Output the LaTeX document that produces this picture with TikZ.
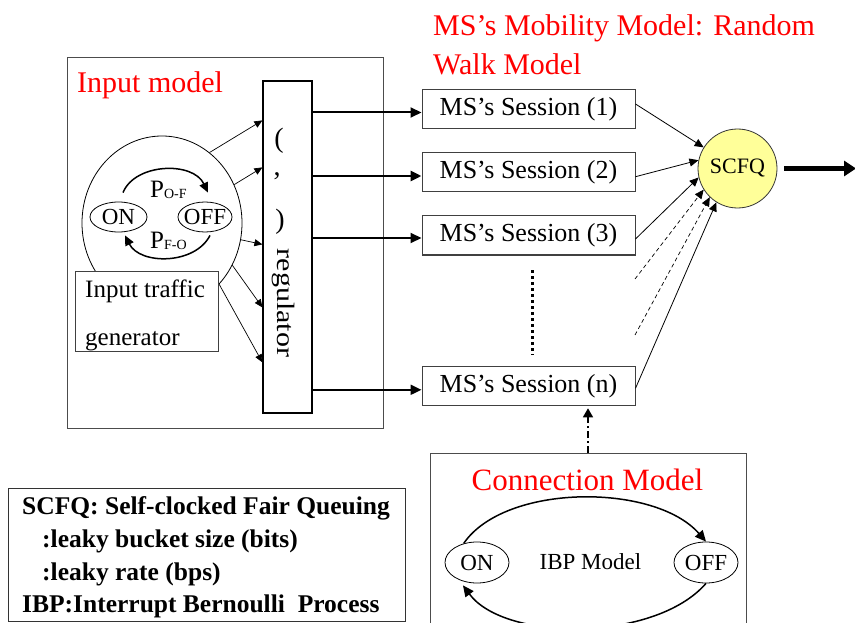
\documentclass[tikz,border=0pt]{standalone}
\usepackage{fontspec}
\setmainfont{Liberation Serif}
\usetikzlibrary{arrows.meta,shapes.geometric,calc}
\newcommand{\myfs}[1]{\fontsize{#1}{#1}\selectfont}
\newcommand{\zw}[1]{\makebox[0pt]{#1}}
\definecolor{scfqy}{HTML}{FFFF99}
\begin{document}
\begin{tikzpicture}[x=1pt,y=-1pt,
  outer/.style={draw=black!70, line width=0.9pt},
  sess/.style={rectangle, draw=black!75, line width=1pt, minimum width=213pt, minimum height=39pt, inner sep=0pt, font=\myfs{26}},
  st/.style={ellipse, draw=black, line width=0.8pt, inner sep=0pt, font=\myfs{23}},
  redlbl/.style={text=red, font=\myfs{30}, inner sep=0pt, anchor=base west},
  sm/.style={-{Triangle[length=8pt,width=7pt]}, line width=0.7pt},
  mid/.style={-{Triangle[length=9pt,width=8pt]}, line width=0.8pt},
  big/.style={-{Triangle[length=11pt,width=10pt]}, line width=2pt},
  arcarrow/.style={-{Triangle[length=10pt,width=9pt]}, line width=1.5pt},
  leg/.style={font=\bfseries\myfs{25.5}, inner sep=0pt, anchor=base west}
]
\useasboundingbox (0,0) rectangle (855,623);
\clip (0,0) rectangle (855,623);

% ---------- Input model ----------
\node[outer, rectangle, minimum width=316pt, minimum height=371pt, inner sep=0pt] (inbox) at (225,242.5) {};
\node[redlbl] (intitle) at (77,93) {Input model};
\node[ellipse, draw, line width=0.8pt, minimum width=160pt, minimum height=174pt, inner sep=0pt] (inell) at (162,223) {};
\node[st, minimum width=57pt, minimum height=30pt] (on1) at (118.5,217) {\zw{ON}};
\node[st, minimum width=54pt, minimum height=30pt] (off1) at (205,217) {\zw{OFF}};
\draw[arcarrow] ($(on1.north)+(4.5,-9)$) .. controls (135,163) and (193,161) .. ($(off1.north)+(3,-9)$);
\draw[arcarrow] ($(off1.south)+(5,3)$) .. controls (195,265) and (140,265) .. ($(on1.south)+(6.5,3)$);
\node[inner sep=0pt, anchor=base west] (pof) at (150,198) {\myfs{25}P\myfs{14}\raisebox{-1pt}{O-F}};
\node[inner sep=0pt, anchor=base west] (pfo) at (150,248) {\myfs{25}P\myfs{14}\raisebox{-1pt}{F-O}};

\node[rectangle, draw=black!75, line width=0.9pt, fill=white, minimum width=143pt, minimum height=80pt, inner sep=0pt, anchor=north west] (gen) at (75,271) {};
\node[inner sep=0pt, anchor=base west, font=\myfs{25}] (gen1) at (85,297) {Input traffic};
\node[inner sep=0pt, anchor=base west, font=\myfs{25}] (gen2) at (85,345) {generator};

% ---------- regulator ----------
\node[rectangle, draw=black, line width=1.2pt, minimum width=49pt, minimum height=332pt, inner sep=0pt] (reg) at (287.5,247) {};
\node[font=\myfs{28}, inner sep=0pt] (rp1) at (279,141) {(};
\node[font=\myfs{28}, inner sep=0pt] (rp2) at (277,176) {,};
\node[font=\myfs{28}, inner sep=0pt] (rp3) at (280,222) {)};
\node[font=\myfs{25}, inner sep=0pt, rotate=-90] (regtxt) at (283,303) {\scalebox{1.2}[1]{regulator}};

\draw[sm] (inell.56) -- ($(reg.north west)+(0,40)$);
\draw[sm] (inell.28) -- ($(reg.north west)+(0,87)$);
\draw[sm] (inell.348) -- ($(reg.north west)+(0,164)$);
\draw[sm] (inell.329) -- ($(reg.north west)+(0,227)$);
\draw[sm] (inell.313) -- ($(reg.north west)+(0,282)$);

% ---------- sessions ----------
\node[redlbl] (mob1) at (433,36) {MS’s Mobility Model: Random};
\node[redlbl] (mob2) at (433,75) {Walk Model};

\node[sess] (s1) at (528.5,109) {MS’s Session (1)};
\node[sess] (s2) at (528.5,172) {MS’s Session (2)};
\node[sess] (s3) at (528.5,235.5) {MS’s Session (3)};
\node[sess] (sn) at (528.5,386.3) {MS’s Session (n)};

\coordinate (ts1) at ($(s1.west)+(0,3.5)$);
\coordinate (ts2) at ($(s2.west)+(0,4)$);
\coordinate (ts3) at ($(s3.west)+(0,2.5)$);
\coordinate (tsn) at ($(sn.west)+(0,3.5)$);
\draw[big] (reg.east |- ts1) -- (ts1);
\draw[big, line width=2.7pt] (reg.east |- ts2) -- (ts2);
\draw[big] (reg.east |- ts3) -- (ts3);
\draw[big] (reg.east |- tsn) -- (tsn);

\coordinate (v1) at (532.7,270);
\coordinate (v2) at (532.7,355);
\draw[line width=3.5pt, dash pattern=on 3pt off 3pt] (v1) -- (v2);

% ---------- SCFQ ----------
\node[circle, draw=black!80, line width=0.8pt, fill=scfqy, minimum size=79pt, inner sep=0pt, font=\myfs{22}] (scfq) at (737.5,168.5) {SCFQ};
\draw[mid] ($(s1.east)+(0,-5)$) -- (scfq.148);
\draw[mid] ($(s2.east)+(0,4.7)$) -- (scfq.168);
\draw[mid] ($(s3.east)+(0,3.5)$) -- (scfq.193);
\coordinate (d1) at (635,279);
\coordinate (d2) at (635,335);
\draw[mid, line width=0.7pt, dash pattern=on 4pt off 3pt] (d1) -- (scfq.212);
\draw[mid, line width=0.7pt, dash pattern=on 4pt off 3pt] (d2) -- (scfq.226);
\draw[mid] ($(sn.east)+(0,2)$) -- (scfq.238);
\coordinate (outend) at (856,168.5);
\draw[line width=5pt, -{Triangle[length=12pt,width=15pt]}] ($(scfq.east)+(7,0)$) -- (outend);

% ---------- Connection model ----------
\draw[outer] (430,640) -- (430,453) -- (746,453) -- (746,640);
\coordinate (cm) at (588,453);
\draw[line width=1.5pt, dash pattern=on 7pt off 3pt on 2pt off 3pt, -{Triangle[length=9pt,width=10pt]}] (cm) -- ($(cm |- sn.south)+(0,2)$);
\node[redlbl, font=\myfs{31}, anchor=base] (cmtitle) at (587.5,490) {Connection Model};
\node[st, minimum width=64pt, minimum height=41pt] (on2) at (477,562.5) {\zw{ON}};
\node[st, minimum width=64pt, minimum height=41pt] (off2) at (706,562.5) {\zw{OFF}};
\node[font=\myfs{23}, inner sep=0pt] (ibp) at (590.5,562) {IBP Model};
\draw[arcarrow, -{Triangle[length=11pt,width=10pt]}] (on2.125) .. controls (505,483) and (655,483) .. (off2.north);
\draw[arcarrow, -{Triangle[length=11pt,width=10pt]}] (off2.south) .. controls (655,642) and (505,642) .. ($(on2.south)+(-14,2)$);

% ---------- legend ----------
\node[rectangle, draw=black!80, line width=1pt, minimum width=397pt, minimum height=133pt, inner sep=0pt, anchor=north west] (legend) at (8,488) {};
\node[leg] (l1) at (22,514) {SCFQ: Self-clocked Fair Queuing};
\node[leg] (l2) at (42,547) {:leaky bucket size (bits)};
\node[leg] (l3) at (42,580) {:leaky rate (bps)};
\node[leg] (l4) at (22,612) {IBP:Interrupt Bernoulli\ \ Process};
\end{tikzpicture}
\end{document}
